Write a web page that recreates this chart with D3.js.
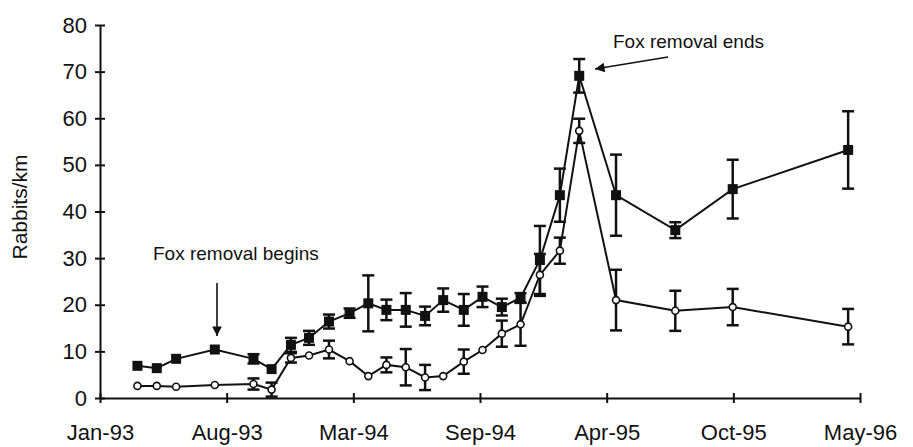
<!DOCTYPE html>
<html>
<head>
<meta charset="utf-8">
<script src="https://cdn.jsdelivr.net/npm/d3@7.9.0/dist/d3.min.js"></script>
<style>
  body { margin: 0; background: #fff; }
  svg { display: block; font-family: "Liberation Sans", Arial, sans-serif; }
</style>
</head>
<body>
<svg id="chart" width="913" height="447"></svg>
<script>
// survey dates
const surveyDates = [
  "1993-03-20", "1993-04-20", "1993-05-21", "1993-07-22", "1993-09-22", "1993-10-21",
  "1993-11-21", "1993-12-20", "1994-01-21", "1994-02-23", "1994-03-25", "1994-04-23",
  "1994-05-24", "1994-06-24", "1994-07-23", "1994-08-25", "1994-09-24", "1994-10-25",
  "1994-11-24", "1994-12-25", "1995-01-26", "1995-02-26", "1995-04-26", "1995-07-30",
  "1995-10-30", "1996-05-02"
];

// filled squares (fox removal site)
const removalMean = [6.9, 6.4, 8.4, 10.4, 8.4, 6.2, 11.4, 12.9, 16.4, 18.2, 20.3, 18.9,
  18.9, 17.6, 21.0, 18.9, 21.7, 19.5, 21.5, 29.6, 43.5, 69.1, 43.5, 36.0, 44.8, 53.2];
const removalErr = [0.5, 0.5, 0.5, 0.5, 1.0, 0.8, 1.5, 1.5, 1.5, 1.0, 6.0, 2.2,
  3.6, 2.0, 2.5, 3.4, 2.2, 1.8, 1.0, 7.3, 5.7, 3.6, 8.7, 1.7, 6.3, 8.3];

// open circles (control site)
const controlMean = [2.6, 2.6, 2.4, 2.8, 3.0, 1.8, 8.6, 9.1, 10.4, 7.9, 4.7, 7.1,
  6.6, 4.4, 4.7, 7.8, 10.3, 13.8, 15.8, 26.4, 31.6, 57.3, 21.0, 18.7, 19.5, 15.3];
const controlErr = [0.6, 0.4, 0.4, 0.3, 1.2, 1.5, 1.0, 0.8, 1.9, 0.8, 0.6, 1.6,
  3.9, 2.7, 0.6, 2.6, 0.8, 2.8, 4.6, 4.5, 2.8, 2.6, 6.5, 4.3, 3.9, 3.8];

const xTickDates = ["1993-01-19", "1993-08-10", "1994-03-01", "1994-09-20",
  "1995-04-11", "1995-10-31", "1996-05-21"];
const yTicks = [0, 10, 20, 30, 40, 50, 60, 70, 80];

const parse = d3.utcParse("%Y-%m-%d");
const svg = d3.select("#chart");
const ink = "#111";

const x = d3.scaleUtc()
  .domain([parse(xTickDates[0]), parse(xTickDates[xTickDates.length - 1])])
  .range([100, 860]);
const y = d3.scaleLinear().domain([0, 80]).range([398, 25]);

function toRows(mean, err) {
  return surveyDates.map((d, i) => ({ date: parse(d), v: mean[i], e: err[i] }));
}
const removal = toRows(removalMean, removalErr);
const control = toRows(controlMean, controlErr);

// axes
const yAxis = svg.append("g")
  .attr("transform", "translate(100,0)")
  .call(d3.axisLeft(y).tickValues(yTicks).tickSizeOuter(0));
yAxis.select(".domain").attr("stroke", ink).attr("stroke-width", 2);
yAxis.selectAll(".tick line").attr("x1", -5).attr("x2", 5).attr("stroke", ink).attr("stroke-width", 2);
yAxis.selectAll(".tick text").attr("x", -13).attr("font-size", 22).attr("fill", ink);

const xAxis = svg.append("g")
  .attr("transform", "translate(0,398)")
  .call(d3.axisBottom(x).tickValues(xTickDates.map(parse))
    .tickFormat(d3.utcFormat("%b-%y")).tickSizeOuter(0));
xAxis.select(".domain").attr("stroke", ink).attr("stroke-width", 2);
xAxis.selectAll(".tick line").attr("y1", -5).attr("y2", 5).attr("stroke", ink).attr("stroke-width", 2);
xAxis.selectAll(".tick text").attr("y", 26).attr("font-size", 22).attr("fill", ink);

svg.append("text")
  .attr("transform", "translate(27,207) rotate(-90)")
  .attr("text-anchor", "middle")
  .attr("font-size", 21)
  .attr("fill", ink)
  .text("Rabbits/km");

// lines
const line = d3.line().x(d => x(d.date)).y(d => y(d.v));
[control, removal].forEach(rows => {
  svg.append("path")
    .datum(rows)
    .attr("d", line)
    .attr("fill", "none")
    .attr("stroke", ink)
    .attr("stroke-width", 2);
});

// error bars
function drawErrors(rows) {
  const g = svg.append("g").attr("stroke", ink).attr("stroke-width", 2.5);
  const bars = g.selectAll("g").data(rows.filter(d => d.e > 0.9)).join("g");
  bars.append("line")
    .attr("x1", d => x(d.date)).attr("x2", d => x(d.date))
    .attr("y1", d => y(d.v + d.e)).attr("y2", d => y(d.v - d.e));
  bars.append("line")
    .attr("x1", d => x(d.date) - 6).attr("x2", d => x(d.date) + 6)
    .attr("y1", d => y(d.v + d.e)).attr("y2", d => y(d.v + d.e));
  bars.append("line")
    .attr("x1", d => x(d.date) - 6).attr("x2", d => x(d.date) + 6)
    .attr("y1", d => y(d.v - d.e)).attr("y2", d => y(d.v - d.e));
}
drawErrors(control);
drawErrors(removal);

// markers
svg.append("g").selectAll("rect").data(removal).join("rect")
  .attr("x", d => x(d.date) - 5)
  .attr("y", d => y(d.v) - 5)
  .attr("width", 10).attr("height", 10)
  .attr("fill", ink);

svg.append("g").selectAll("circle").data(control).join("circle")
  .attr("cx", d => x(d.date))
  .attr("cy", d => y(d.v))
  .attr("r", 3.5)
  .attr("fill", "#fff")
  .attr("stroke", ink)
  .attr("stroke-width", 1.6);

// annotations
svg.append("defs").append("marker")
  .attr("id", "head")
  .attr("viewBox", "0 0 10 10")
  .attr("refX", 10).attr("refY", 5)
  .attr("markerWidth", 7).attr("markerHeight", 6)
  .attr("markerUnits", "strokeWidth")
  .attr("orient", "auto")
  .append("path").attr("d", "M0,0L10,5L0,10Z").attr("fill", ink);

svg.append("text")
  .attr("x", 153).attr("y", 260)
  .attr("font-size", 19).attr("fill", ink)
  .text("Fox removal begins");
svg.append("line")
  .attr("x1", 217).attr("y1", 283).attr("x2", 217).attr("y2", 336)
  .attr("stroke", ink).attr("stroke-width", 1.6)
  .attr("marker-end", "url(#head)");

svg.append("text")
  .attr("x", 613).attr("y", 48)
  .attr("font-size", 19).attr("fill", ink)
  .text("Fox removal ends");
svg.append("line")
  .attr("x1", 668).attr("y1", 57).attr("x2", 595).attr("y2", 69)
  .attr("stroke", ink).attr("stroke-width", 1.6)
  .attr("marker-end", "url(#head)");
</script>
</body>
</html>
